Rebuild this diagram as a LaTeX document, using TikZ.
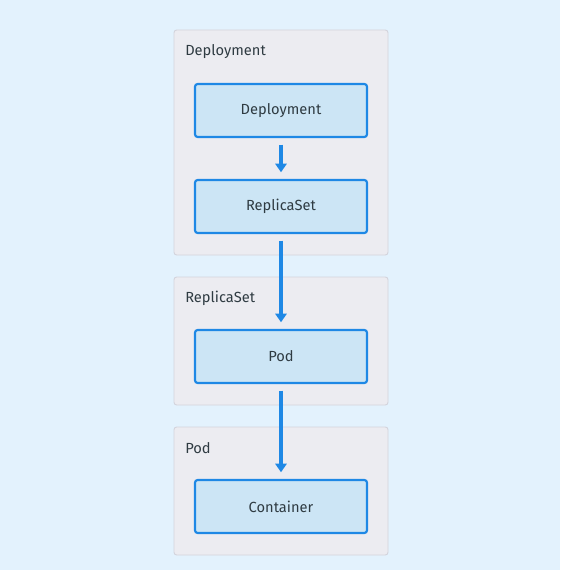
\documentclass[tikz,border=0pt]{standalone}
\usepackage{fontspec}
\setmainfont{Fira Sans}
\usetikzlibrary{arrows.meta,positioning}
\definecolor{pagebg}{HTML}{E3F2FD}
\definecolor{groupfill}{HTML}{ECECF1}
\definecolor{groupline}{HTML}{D3D3DB}
\definecolor{boxfill}{HTML}{CCE5F5}
\definecolor{boxline}{HTML}{1E88E5}
\definecolor{inkgray}{HTML}{2F3B42}
\begin{document}
\begin{tikzpicture}[x=0.75pt,y=-0.75pt,
  group/.style={fill=groupfill,draw=groupline,line width=0.7pt,rounded corners=2pt},
  grouplabel/.style={anchor=west,inner sep=0pt,text=inkgray,font=\fontsize{11}{13}\selectfont},
  kind/.style={draw=boxline,fill=boxfill,line width=1.6pt,rounded corners=2pt,
    minimum width=129pt,minimum height=39.75pt,inner sep=0pt,
    text=inkgray,font=\fontsize{11}{13}\selectfont},
  owns/.style={draw=boxline,line width=2.4pt,-{Triangle[width=8.5pt,length=6.5pt]},
    shorten <=5pt,shorten >=5pt}]
\fill[pagebg] (0,0) rectangle (560,570);
% groups
\draw[group] (174,30) rectangle (388,255);
\draw[group] (174,277) rectangle (388,405);
\draw[group] (174,427) rectangle (388,555);
\node[grouplabel] (lbldep) at (185,52) {Deployment};
\node[grouplabel] (lblrs) at (185,298) {ReplicaSet};
\node[grouplabel] (lblpod) at (185,448) {Pod};
% objects
\node[kind] (dep) at (281,110.5) {Deployment};
\node[kind] (rs) at (281,206.5) {ReplicaSet};
\node[kind] (pod) at (281,356.5) {Pod};
\node[kind] (ctr) at (281,506.5) {Container};
\draw[owns] (dep) -- (rs);
\draw[owns] (rs) -- (pod);
\draw[owns] (pod) -- (ctr);
\end{tikzpicture}
\end{document}
